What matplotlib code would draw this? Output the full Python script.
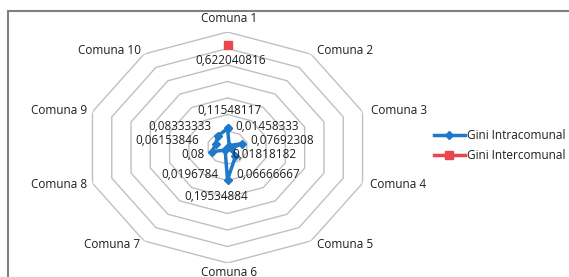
import numpy as np
import matplotlib
matplotlib.use("Agg")
import matplotlib.pyplot as plt
from matplotlib.patches import Rectangle

# datos
comunas = ["Comuna 1", "Comuna 2", "Comuna 3", "Comuna 4", "Comuna 5",
           "Comuna 6", "Comuna 7", "Comuna 8", "Comuna 9", "Comuna 10"]
gini_intra = [0.11548117, 0.01458333, 0.07692308, 0.01818182, 0.06666667,
              0.19534884, 0.0196784, 0.08, 0.06153846, 0.08333333]
gini_inter = [0.622040816, np.nan, np.nan, np.nan, np.nan,
              np.nan, np.nan, np.nan, np.nan, np.nan]
anillos = [0.1, 0.2, 0.3, 0.4, 0.5, 0.6, 0.7]

# posiciones de textos (pixeles en la figura)
pos_comunas = [(229, 18), (345, 50), (399, 110), (398, 184), (345, 245),
               (229, 272), (112, 245), (59, 185), (59, 110), (109, 50)]
pos_intra = [(229, 110), (267, 126), (282, 140), (264, 155), (268, 175),
             (216, 197), (190, 175), (193, 155), (167, 140), (180, 126)]
pos_inter = (231, 60)

AZUL = "#1f78c8"
ROJO = "#e8474c"
TXT = "#1e1e1e"
W, H = 569, 277

plt.rcParams['font.family'] = ['Open Sans', 'DejaVu Sans']

fig = plt.figure(figsize=(W/100, H/100), dpi=100)
ax = fig.add_axes([85.5/W, 14/H, 284/W, 231/H], projection="polar")
ax.set_aspect("auto")
ax.set_theta_zero_location("N")
ax.set_theta_direction(-1)
ax.set_ylim(0, 0.7)
ax.grid(False)
ax.set_xticks([])
ax.set_yticks([])
ax.spines["polar"].set_visible(False)
ax.patch.set_alpha(0)

n = len(comunas)
ang = np.linspace(0, 2*np.pi, n, endpoint=False)
ang_c = np.append(ang, ang[0])

for r in anillos:
    ax.plot(ang_c, [r]*(n+1), color="#c0c0c0", lw=1, zorder=1)

intra_c = np.append(gini_intra, gini_intra[0])
ax.plot(ang_c, intra_c, color=AZUL, lw=2.5, marker="D", ms=4,
        label="Gini Intracomunal", zorder=3, clip_on=False)
ax.plot(ang, gini_inter, color=ROJO, lw=2.5, marker="s", ms=6,
        label="Gini Intercomunal", zorder=3, clip_on=False)

def fx(p):
    return p[0]/W, 1 - p[1]/H

for nombre, p in zip(comunas, pos_comunas):
    fig.text(*fx(p), nombre, ha="center", va="center", fontsize=8.5, color=TXT)

for v, p in zip(gini_intra, pos_intra):
    fig.text(*fx(p), f"{v}".replace(".", ","), ha="center", va="center",
             fontsize=8.5, color=TXT)
fig.text(*fx(pos_inter), f"{gini_inter[0]}".replace(".", ","), ha="center",
         va="center", fontsize=8.5, color=TXT)

fig.legend(loc="center left", bbox_to_anchor=(428/W, 1 - 145.5/H), frameon=False,
           fontsize=8.5, handlelength=2.6, handletextpad=0.2, labelspacing=0.6,
           borderpad=0, labelcolor=TXT)

# marco del grafico
fig.patches.append(Rectangle((8/W, -0.1), 1.2, 1 - 11/H + 0.1, transform=fig.transFigure,
                             fill=False, edgecolor="#7f7f7f", lw=1.5))

fig.savefig("out.png", dpi=100)
